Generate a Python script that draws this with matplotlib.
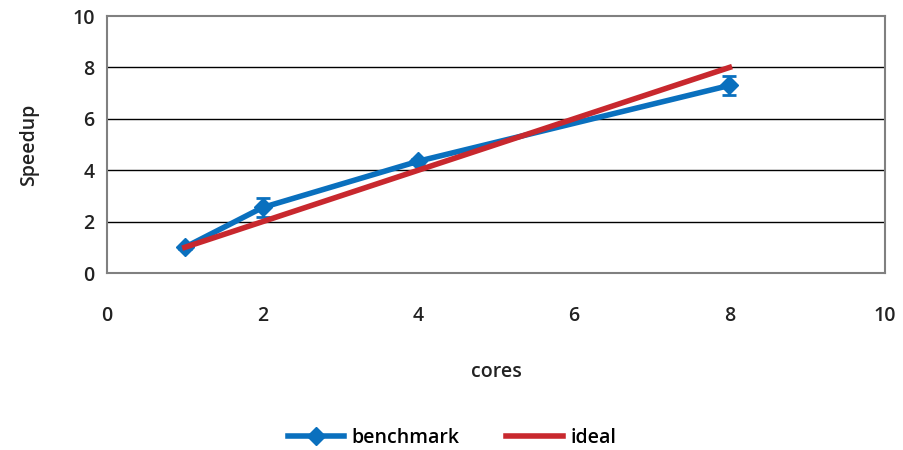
import matplotlib
matplotlib.use("Agg")
import matplotlib.pyplot as plt
from matplotlib.lines import Line2D

cores = [1, 2, 4, 8]
benchmark = [1.0, 2.55, 4.35, 7.3]
benchmark_err = [0.05, 0.38, 0.1, 0.37]
ideal = [1, 2, 4, 8]

plt.rcParams['font.family'] = ['Open Sans', 'DejaVu Sans']
plt.rcParams['font.weight'] = 'semibold'
plt.rcParams['axes.labelweight'] = 'semibold'

fig = plt.figure(figsize=(9.04, 4.5), dpi=100)
ax = fig.add_axes([0.1184, 0.3933, 0.8606, 0.571])

blue = '#0A70BE'
red = '#C8282E'
fs = 14

ax.errorbar(cores, benchmark, yerr=benchmark_err, color=blue, lw=4,
            marker='D', markersize=9, elinewidth=2, capsize=5, capthick=2,
            zorder=3)
ax.plot(cores, ideal, color=red, lw=4, zorder=4)

ax.set_xlim(0, 10)
ax.set_ylim(0, 10)
ax.set_xticks([0, 2, 4, 6, 8, 10])
ax.set_yticks([0, 2, 4, 6, 8, 10])
for y in [2, 4, 6, 8]:
    ax.axhline(y, color='black', lw=1, zorder=1)
for s in ax.spines.values():
    s.set_color('#808080')
    s.set_linewidth(1.5)
ax.tick_params(length=0, labelsize=fs, colors='#222222')
ax.tick_params(axis='x', pad=24)
ax.tick_params(axis='y', pad=9)

ax.set_xlabel('cores', fontsize=fs, labelpad=26, color='#222222')
ax.set_ylabel('Speedup', fontsize=fs, labelpad=24, color='#222222')

handles = [Line2D([], [], color=blue, lw=4, marker='D', markersize=9),
           Line2D([], [], color=red, lw=4)]
fig.legend(handles, ['benchmark', 'ideal'], loc='center',
           bbox_to_anchor=(0.5, 0.027), ncol=2, frameon=False, fontsize=fs,
           handlelength=2.9, handletextpad=0.4, columnspacing=2.4)

fig.savefig('out.png', dpi=100)
